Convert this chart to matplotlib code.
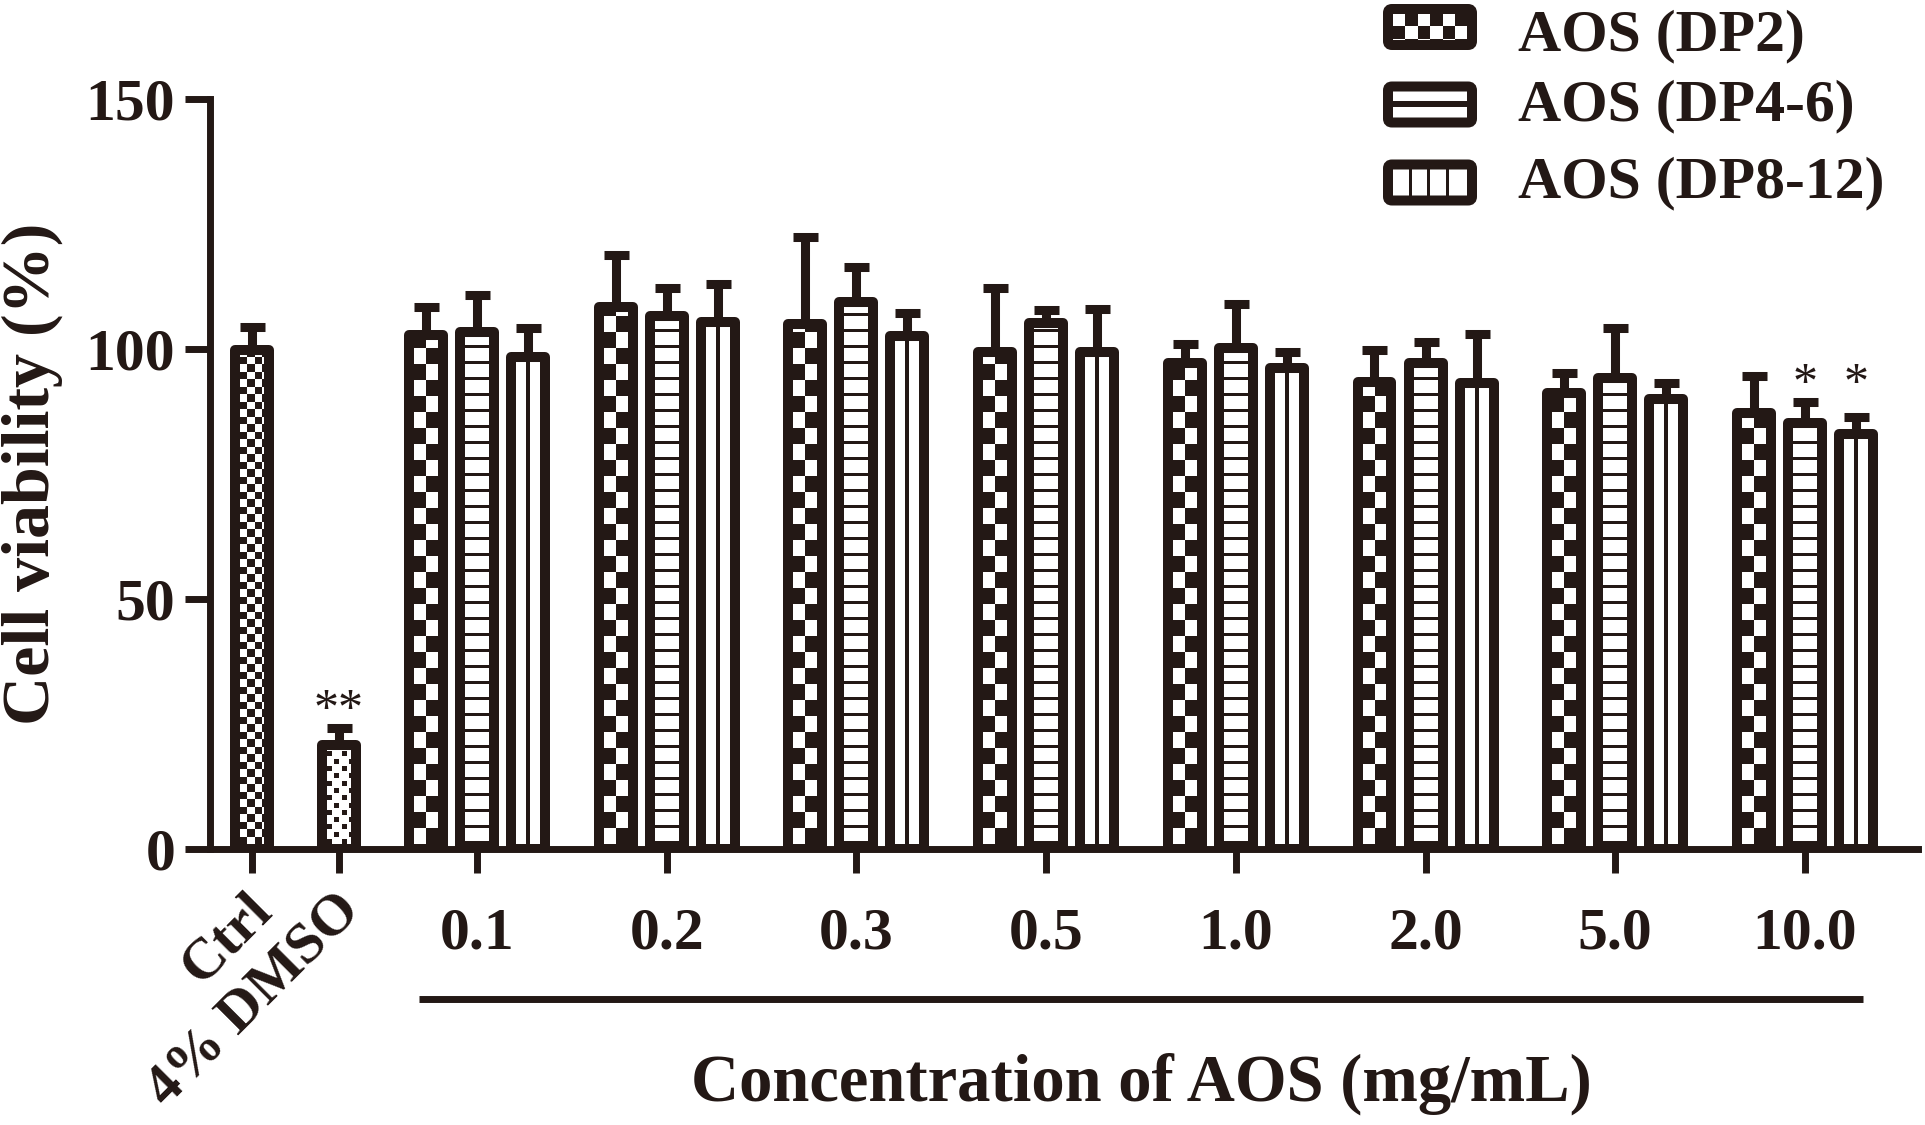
import numpy as np
import matplotlib.pyplot as plt
from matplotlib.colors import ListedColormap
from matplotlib.patches import FancyBboxPatch

ink = '#231815'
plt.rcParams['font.family'] = ['Liberation Serif', 'DejaVu Serif']
plt.rcParams['font.weight'] = 'bold'

# data
series = ['AOS (DP2)', 'AOS (DP4-6)', 'AOS (DP8-12)']
conc_labels = ['0.1', '0.2', '0.3', '0.5', '1.0', '2.0', '5.0', '10.0']
ctrl_labels = ['Ctrl', '4% DMSO']
ctrl_vals = [99.8, 20.8]
ctrl_err = [4.6, 3.4]
ctrl_sig = ['', '**']
dp2 = [102.8, 108.4, 105.0, 99.4, 97.2, 93.4, 91.2, 87.2]
dp2_err = [5.6, 10.4, 17.4, 12.8, 3.8, 6.4, 4.0, 7.4]
dp46 = [103.4, 106.6, 109.4, 105.2, 100.2, 97.2, 94.2, 85.2]
dp46_err = [7.4, 5.6, 7.0, 2.6, 8.8, 4.2, 10.0, 4.2]
dp812 = [98.4, 105.4, 102.6, 99.4, 96.2, 93.2, 90.0, 83.0]
dp812_err = [5.8, 7.6, 4.6, 8.6, 3.2, 9.8, 3.2, 3.4]
dp2_sig = [''] * 8
dp46_sig = [''] * 7 + ['*']
dp812_sig = [''] * 7 + ['*']

# fill patterns, coords in pixels from the inner side of the outline
fills = {
    'fine': lambda x, y: (np.floor(x / 7.5) + np.floor(y / 7.5)) % 2 == 0,
    'sparse': lambda x, y: ((np.floor(x / 7.3) + np.floor(y / 7.3)) % 2 == 0)
                           & (x % 7.3 < 5) & (y % 7.3 < 5),
    'dp2': lambda x, y: (np.floor(x / 12) + np.floor(y / 16)) % 2 == 1,
    'hline': lambda x, y: y % 16 < 3.5,
    'vline': lambda x, y: (x >= 10) & (x < 14),
    'leg_dp2': lambda x, y: (np.floor(x / 12.4) + np.floor(y / 12.5)) % 2 == 1,
    'leg_hline': lambda x, y: (y >= 10) & (y < 16),
    'leg_vline': lambda x, y: (x % 18.7 > 15.5) & (x < 70),
}
cmap = ListedColormap(['white', ink])


def fill_img(kind, w, h, edge=5):
    yy, xx = np.mgrid[0:h, 0:w] + 0.5
    return fills[kind](xx - edge, yy - edge).astype(float)


fig = plt.figure(figsize=(19.25, 11.25), dpi=100)
ax = fig.add_axes([210 / 1925, 276 / 1125, 1708 / 1925, 750 / 1125])
ax.set_xlim(-1.4075, 7.596)
ax.set_ylim(0, 150)

group_x = np.arange(len(conc_labels))
ctrl_x = np.array([-1.186, -0.7275])
bw = 0.179
off = 0.269

p0 = ax.transData.transform((0, 0))
p1 = ax.transData.transform((1, 1))
px_x, px_y = p1 - p0


def draw_bars(xs, vals, errs, kind):
    bars = ax.bar(xs, vals, width=bw, facecolor='none', edgecolor=ink,
                  linewidth=7.2, zorder=3)
    for b in bars:
        b.set_joinstyle('round')
    for x, v in zip(xs, vals):
        img = fill_img(kind, int(round(bw * px_x)), int(round(v * px_y)))
        ax.imshow(img, cmap=cmap, vmin=0, vmax=1, origin='lower',
                  extent=(x - bw / 2, x + bw / 2, 0, v), aspect='auto',
                  interpolation='nearest', zorder=2)
    ax.errorbar(xs, vals, yerr=[np.zeros(len(vals)), errs], fmt='none',
                ecolor=ink, elinewidth=6.5, capsize=9, capthick=6.5, zorder=2.5)


draw_bars(ctrl_x[:1], ctrl_vals[:1], ctrl_err[:1], 'fine')
draw_bars(ctrl_x[1:], ctrl_vals[1:], ctrl_err[1:], 'sparse')
draw_bars(group_x - off, dp2, dp2_err, 'dp2')
draw_bars(group_x, dp46, dp46_err, 'hline')
draw_bars(group_x + off, dp812, dp812_err, 'vline')

# significance marks, one common level per group
all_x = [ctrl_x, group_x - off, group_x, group_x + off]
all_v = [ctrl_vals, dp2, dp46, dp812]
all_e = [ctrl_err, dp2_err, dp46_err, dp812_err]
all_s = [ctrl_sig, dp2_sig, dp46_sig, dp812_sig]
marks = []
for xs, vs, es, ss in zip(all_x, all_v, all_e, all_s):
    for x, v, e, s in zip(xs, vs, es, ss):
        if s:
            marks.append((x, v + e, s))
for x, top, s in marks:
    near = [t for xx, t, _ in marks if abs(xx - x) < 0.6]
    ax.text(x, max(near) + 1.0, s, ha='center', va='baseline', fontsize=36,
            fontweight='normal', color=ink)

# axes styling
for side in ['top', 'right']:
    ax.spines[side].set_visible(False)
for side in ['left', 'bottom']:
    ax.spines[side].set_linewidth(5)
    ax.spines[side].set_color(ink)
    ax.spines[side].set_zorder(4)
ax.set_yticks([0, 50, 100, 150])
ax.set_xticks(list(ctrl_x) + list(group_x))
ax.set_xticklabels([''] * len(ctrl_x) + conc_labels)
ax.tick_params(axis='y', length=18, width=5, color=ink, labelsize=43,
               labelcolor=ink, pad=7)
ax.tick_params(axis='x', length=17, width=5, color=ink, labelsize=43,
               labelcolor=ink, pad=25)

ctrl_dx = [-0.039, -0.029]
for x, lab, dx in zip(ctrl_x, ctrl_labels, ctrl_dx):
    ax.text(x + dx, -0.046, lab, transform=ax.get_xaxis_transform(),
            rotation=45, rotation_mode='anchor', ha='right', va='top',
            fontsize=42, color=ink)

ax.plot([group_x[0] - 0.307, group_x[-1] + 0.307], [-0.2, -0.2],
        transform=ax.get_xaxis_transform(), clip_on=False, color=ink,
        linewidth=5, solid_capstyle='butt')
ax.text(group_x.mean(), -0.313, 'Concentration of AOS (mg/mL)',
        transform=ax.get_xaxis_transform(), ha='center', va='center',
        fontsize=48, color=ink)
ax.text(-0.104, 0.5, 'Cell viability (%)', transform=ax.transAxes,
        rotation=90, ha='center', va='center', fontsize=49, color=ink)

# legend drawn in pixel coordinates
lax = fig.add_axes([0, 0, 1, 1])
lax.axis('off')
leg_kinds = ['leg_dp2', 'leg_hline', 'leg_vline']
box_y = [27, 104.5, 182.5]
text_y = [36, 106, 183]
for name, kind, yc, ty in zip(series, leg_kinds, box_y, text_y):
    lax.imshow(fill_img(kind, 84, 36), cmap=cmap, vmin=0, vmax=1,
               origin='upper', extent=(1388, 1472, yc + 18, yc - 18),
               aspect='auto', interpolation='nearest', zorder=2)
    box = FancyBboxPatch((1388, yc - 18), 84, 36,
                         boxstyle='round,pad=0,rounding_size=4',
                         facecolor='none', edgecolor=ink, linewidth=7.2,
                         zorder=3)
    lax.add_patch(box)
    lax.text(1518, ty, name, ha='left', va='center', fontsize=43, color=ink)
lax.set_xlim(0, 1925)
lax.set_ylim(1125, 0)

fig.savefig('out.png', dpi=100)
